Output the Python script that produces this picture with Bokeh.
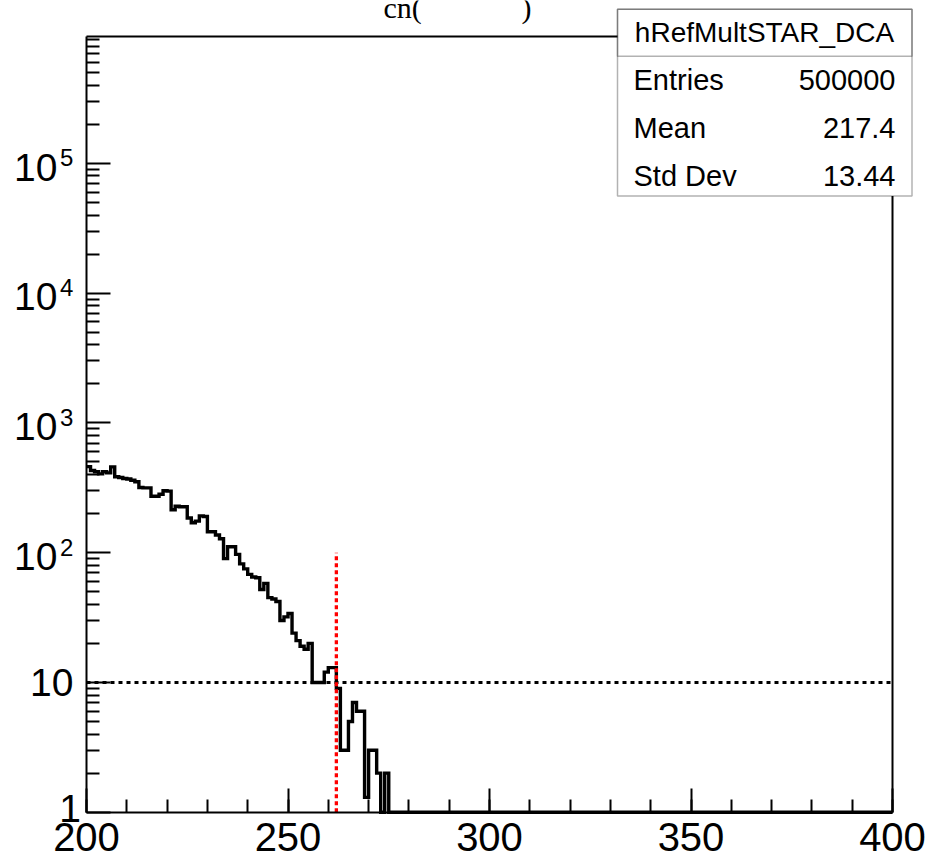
import numpy as np
from bokeh.plotting import figure
from bokeh.models import Range1d, FixedTicker, SingleIntervalTicker, Label, BoxAnnotation
from bokeh.embed import file_html
from bokeh.resources import INLINE

# ---------------- data ----------------
bin_low = list(range(200, 275))          # bins of width 1
counts = [460, 430, 420, 405, 420, 412, 458, 385, 380, 373,
          370, 361, 352, 318, 316, 316, 272, 272, 282, 300,
          298, 214, 228, 226, 226, 185, 170, 175, 192, 190,
          145, 145, 137, 128, 90, 111, 111, 97, 82, 75,
          68, 65, 64, 52, 58, 45, 44, 42, 30, 32,
          34, 24, 21, 19, 18, 20, 10, 10, 10, 12,
          13, 13, 9, 3, 3, 5, 7, 6, 6, 1.3,
          3, 3, 2, 0, 2]
bin_low = bin_low[:len(counts)]
bin_width = 1
cut_x = 262
cut_top = 100
ref_level = 10
x_view = (200, 400)          # ROOT frame range on x
y_view = (1, 9.5e5)          # ROOT frame range on y (log)
y_major = [1, 10, 100, 1000, 10000, 100000]
y_plain = {10: "10"}
y_one = "1"
y_exponents = [2, 3, 4, 5]
stats_title = "hRefMultSTAR_DCA"
stats_names = ["Entries", "Mean", "Std Dev"]
stats_values = ["500000", "217.4", "13.44"]

# ---------------- layout (pixel <-> data) ----------------
W, H = 930, 861
FL, FR, FT, FB = 86, 892, 36, 811.7      # where the ROOT frame sits on the page
XPP = (x_view[1] - x_view[0]) / (FR - FL)
LPP = (np.log10(y_view[1]) - np.log10(y_view[0])) / (FB - FT)

def xd(px):
    return x_view[0] + (px - FL) * XPP

def yd(py):
    return 10 ** (np.log10(y_view[0]) + (FB - py) * LPP)

def ypx(y):
    return FB - (np.log10(y) - np.log10(y_view[0])) / LPP

BASE_SHIFT = 0.35   # label text sits this many em below its anchor

def ylab(py_baseline, size):
    return yd(py_baseline - BASE_SHIFT * size)

# Bokeh's frame covers the whole page; the axes are pinned at the ROOT frame
# edges so that overhanging texts and the stats box are not clipped.
p = figure(width=W, height=H, x_range=Range1d(xd(0), xd(W)),
           y_range=Range1d(yd(H), yd(0)),
           y_axis_type="log", output_backend="svg", toolbar_location=None,
           min_border_left=0, min_border_right=0, min_border_top=0, min_border_bottom=0)
p.grid.visible = False
p.background_fill_color = "white"
p.border_fill_color = "white"
p.outline_line_color = None

# histogram as a step outline (empty bins are drawn on the frame bottom, as ROOT does)
xs, ys = [], []
for lo, c in zip(bin_low, counts):
    v = max(c, y_view[0])
    xs += [lo, lo + bin_width]
    ys += [v, v]
xs += [bin_low[-1] + bin_width, x_view[1]]
ys += [y_view[0], y_view[0]]
p.line(xs, ys, line_color="black", line_width=3.4, line_join="miter")

# reference lines
p.segment(x0=[x_view[0]], y0=[ref_level], x1=[x_view[1]], y1=[ref_level],
          line_color="black", line_width=3, line_dash="4 4")
p.segment(x0=[cut_x], y0=[y_view[0]], x1=[cut_x], y1=[cut_top],
          line_color="#ff0000", line_width=3.3, line_dash="4 3")

# top and right edges of the ROOT frame
p.segment(x0=[x_view[0], x_view[1]], y0=[y_view[1], y_view[0]],
          x1=[x_view[1], x_view[1]], y1=[y_view[1], y_view[1]],
          line_color="black", line_width=2)

# axes
FONT = "Liberation Sans"
xa = p.xaxis[0]
xa.fixed_location = y_view[0]
xa.ticker = SingleIntervalTicker(interval=50, num_minor_ticks=5)
xa.bounds = x_view
ya = p.yaxis[0]
ya.fixed_location = x_view[0]
ya.ticker = FixedTicker(ticks=y_major,
                        minor_ticks=[m * 10 ** d for d in range(0, 6) for m in range(2, 10)])
ya.bounds = y_view
ya.major_label_overrides = {t: y_plain.get(t, "") for t in y_major}
for ax in (xa, ya):
    ax.axis_line_width = 2
    ax.major_tick_in = 24
    ax.major_tick_out = 0
    ax.minor_tick_in = 13
    ax.minor_tick_out = 0
    ax.major_tick_line_width = 2
    ax.minor_tick_line_width = 2
    ax.major_label_text_font = FONT
    ax.major_label_text_color = "black"
xa.major_label_text_font_size = "40px"
xa.major_label_standoff = 11
ya.major_label_text_font_size = "39px"
ya.major_label_standoff = 13

# the "1" at the bottom of the log axis sits closer to the frame, as in ROOT
p.add_layout(Label(x=xd(80.5), y=ylab(ypx(y_view[0]) + 10, 39), text=y_one, text_align="right",
                   text_baseline="alphabetic", text_font=FONT, text_font_size="39px",
                   text_color="black"))

# power-of-ten labels: "10" with a raised exponent
for k in y_exponents:
    ty = ypx(10 ** k)
    p.add_layout(Label(x=xd(57), y=ylab(ty + 17.5, 39), text="10", text_align="right",
                       text_baseline="alphabetic", text_font=FONT, text_font_size="39px",
                       text_color="black"))
    p.add_layout(Label(x=xd(59.5), y=ylab(ty + 3, 24), text=str(k), text_align="left",
                       text_baseline="alphabetic", text_font=FONT, text_font_size="24px",
                       text_color="black"))

# partially visible title (cut by the top of the page, as in the original)
p.add_layout(Label(x=xd(383), y=ylab(17.5, 30), text="cn(", text_align="left",
                   text_baseline="alphabetic", text_font="Liberation Serif",
                   text_font_size="30px", text_color="black"))
p.add_layout(Label(x=xd(521), y=ylab(17.5, 30), text=")", text_align="left",
                   text_baseline="alphabetic", text_font="Liberation Serif",
                   text_font_size="30px", text_color="black"))

# stats box
p.add_layout(BoxAnnotation(left=xd(617), right=xd(911.5), top=yd(8.7), bottom=yd(195.5),
                           fill_color="white", fill_alpha=1, line_color="black", line_width=1.5,
                           level="overlay"))
p.add_layout(BoxAnnotation(left=xd(617), right=xd(911.5), top=yd(8.7), bottom=yd(55.7),
                           fill_alpha=0, line_color="black", line_width=1.5, level="overlay"))
p.add_layout(Label(x=xd(764), y=ylab(41.7, 28), text=stats_title, text_align="center",
                   text_baseline="alphabetic", text_font=FONT, text_font_size="28px",
                   text_color="black", level="overlay"))
for i, (nm, vl) in enumerate(zip(stats_names, stats_values)):
    base = 90 + i * 47.6
    p.add_layout(Label(x=xd(633), y=ylab(base, 29), text=nm, text_align="left",
                       text_baseline="alphabetic", text_font=FONT, text_font_size="29px",
                       text_color="black", level="overlay"))
    p.add_layout(Label(x=xd(895), y=ylab(base, 29), text=vl, text_align="right",
                       text_baseline="alphabetic", text_font=FONT, text_font_size="29px",
                       text_color="black", level="overlay"))

open("out.html", "w").write(file_html(p, INLINE))
